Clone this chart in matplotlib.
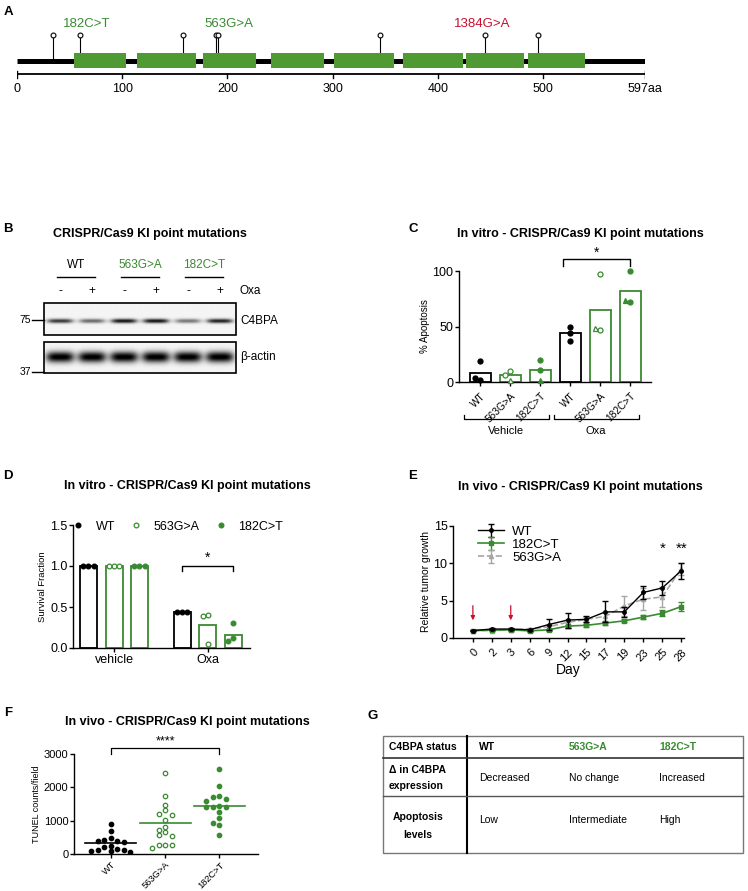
import numpy as np
import matplotlib
matplotlib.use('Agg')
import matplotlib.pyplot as plt
from matplotlib.patches import Rectangle
from matplotlib.lines import Line2D

plt.rcParams['font.family'] = ['Liberation Sans', 'DejaVu Sans']
plt.rcParams['axes.linewidth'] = 1.0

W, H = 748, 891
GREEN = '#3a8a32'
BOX_GREEN = '#4f9a32'
RED = '#c8102e'
GREY = '#a6a6a6'

# ---- panel A: protein map
PROTEIN_LEN = 597
DOMAINS = [(54, 104), (114, 170), (177, 227), (241, 292), (301, 358),
           (367, 424), (427, 482), (486, 540)]
SITES = [34, 60, 158, 189, 191, 345, 445, 495]
MUTATIONS = ['182C>T', '563G>A', '1384G>A']
MUT_POS = [66, 201, 442]
MUT_COLORS = [GREEN, GREEN, RED]
SCALE_TICKS = [0, 100, 200, 300, 400, 500]

# ---- panel B: western blot
BLOT_GROUPS = ['WT', '563G>A', '182C>T']
BLOT_GROUP_COLORS = ['black', GREEN, GREEN]
OXA_SIGNS = ['-', '+', '-', '+', '-', '+']
C4BPA_BAND = [0.75, 0.55, 0.9, 0.9, 0.5, 0.85]
ACTIN_BAND = [1.0, 1.0, 1.0, 1.0, 1.0, 1.0]

# ---- panel C: % apoptosis
C_GROUPS = ['WT', '563G>A', '182C>T']
C_TREAT = ['Vehicle', 'Oxa']
C_BARS = [8, 6, 11, 44, 65, 82]
C_POINTS = [[19, 2, 3.5], [10, 6, 2], [20, 10.5, 2],
            [50, 44, 37], [97, 47, 49], [100, 72, 74]]

# ---- panel D: survival fraction
D_TREAT = ['vehicle', 'Oxa']
D_LABELS = ['WT', '563G>A', '182C>T']
D_BARS = [[1.0, 0.44], [1.0, 0.28], [1.0, 0.16]]
D_POINTS = [[[1.0, 1.0, 1.0], [0.44, 0.44, 0.44]],
            [[1.0, 1.0, 1.0], [0.40, 0.39, 0.05]],
            [[1.0, 1.0, 1.0], [0.30, 0.12, 0.08]]]

# ---- panel E: tumour growth
DAYS = ['0', '2', '3', '6', '9', '12', '15', '17', '19', '23', '25', '28']
E_WT = [1.0, 1.2, 1.2, 1.1, 1.8, 2.4, 2.5, 3.5, 3.5, 6.1, 6.7, 9.0]
E_WT_ERR = [0.05, 0.1, 0.1, 0.1, 0.7, 1.0, 0.4, 1.4, 0.7, 0.9, 1.0, 1.1]
E_182 = [1.0, 1.05, 1.1, 0.95, 1.1, 1.6, 1.7, 2.0, 2.3, 2.8, 3.3, 4.2]
E_182_ERR = [0.05, 0.1, 0.1, 0.1, 0.15, 0.2, 0.2, 0.2, 0.2, 0.3, 0.4, 0.6]
E_563 = [1.0, 1.0, 1.1, 1.2, 1.5, 2.1, 2.5, 2.9, 4.3, 5.2, 5.5, 9.3]
E_563_ERR = [0.05, 0.1, 0.1, 0.1, 0.3, 0.5, 0.3, 0.6, 1.3, 1.5, 1.3, 0.8]
ARROW_DAYS = ['0', '3']

# ---- panel F: TUNEL counts
F_GROUPS = ['WT', '563G>A', '182C>T']
F_WT = [910, 700, 480, 430, 400, 380, 350, 250, 200, 150, 130, 120, 100, 80, 60]
F_563 = [2430, 1730, 1480, 1320, 1200, 1180, 1030, 820, 720, 650, 560, 550,
         280, 270, 260, 180]
F_182 = [2550, 2040, 1730, 1710, 1660, 1590, 1440, 1420, 1420, 1400, 1250,
         1080, 940, 880, 580]

# ---- panel G: summary table
G_HEADER = ['C4BPA status', 'WT', '563G>A', '182C>T']
G_HEADER_COLORS = ['black', 'black', GREEN, GREEN]
G_ROW1 = ['Decreased', 'No change', 'Increased']
G_ROW2 = ['Low', 'Intermediate', 'High']

fig = plt.figure(figsize=(W / 100, H / 100), dpi=100)


def px_axes(x0, y0, x1, y1):
    return fig.add_axes([x0 / W, 1 - y1 / H, (x1 - x0) / W, (y1 - y0) / H])


def ftext(x, y, s, **kw):
    kw.setdefault('va', 'center')
    return fig.text(x / W, 1 - y / H, s, **kw)


def swarm_x(ax, xc, vals, step, min_px):
    placed, xs = [], []
    offsets = [0] + [s * i for i in range(1, 10) for s in (-1, 1)]
    for v in vals:
        for o in offsets:
            x = xc + o * step
            p = ax.transData.transform((x, v))
            if all(np.hypot(*(p - q)) >= min_px for q in placed):
                break
        placed.append(p)
        xs.append(x)
    return xs


def clean(ax):
    ax.spines['top'].set_visible(False)
    ax.spines['right'].set_visible(False)
    ax.tick_params(length=3, width=1)


# panel letters and titles
for lab, x, y in [('A', 8, 12), ('B', 8, 229), ('C', 413, 229), ('D', 8, 476),
                  ('E', 413, 476), ('F', 8, 713), ('G', 373, 716)]:
    ftext(x, y, lab, fontsize=9.5, fontweight='bold', ha='center')
TITLE_KW = dict(fontsize=9, fontweight='bold', ha='center')
ftext(150, 234, 'CRISPR/Cas9 KI point mutations', **TITLE_KW)
ftext(580, 234, 'In vitro - CRISPR/Cas9 KI point mutations', **TITLE_KW)
ftext(187, 486, 'In vitro - CRISPR/Cas9 KI point mutations', **TITLE_KW)
ftext(580, 487, 'In vivo - CRISPR/Cas9 KI point mutations', **TITLE_KW)
ftext(187, 722, 'In vivo - CRISPR/Cas9 KI point mutations', **TITLE_KW)

# ---------------- A
axA = px_axes(17, 10, 645, 100)
axA.set_xlim(0, PROTEIN_LEN)
axA.set_ylim(100, 10)
axA.axis('off')
axA.plot([0, PROTEIN_LEN], [61, 61], color='black', lw=3.6, solid_capstyle='butt')
for s, e in DOMAINS:
    axA.add_patch(Rectangle((s, 52.5), e - s, 15, facecolor=BOX_GREEN, edgecolor='none', zorder=3))
for site in SITES:
    base = 52.5 if any(s <= site <= e for s, e in DOMAINS) else 61
    axA.plot([site, site], [base, 36], color='black', lw=0.8, zorder=2)
    axA.plot(site, 35, 'o', ms=3.5, mfc='white', mec='black', mew=0.8, zorder=4)
for name, pos, col in zip(MUTATIONS, MUT_POS, MUT_COLORS):
    axA.text(pos, 24, name, color=col, fontsize=9.5, ha='center', va='center')
axA.plot([0, PROTEIN_LEN], [74, 74], color='black', lw=1.3)
for t in SCALE_TICKS + [PROTEIN_LEN]:
    top = 71 if t in (0, PROTEIN_LEN) else 74
    axA.plot([t, t], [top, 78], color='black', lw=1)
    lab = f'{t}aa' if t == PROTEIN_LEN else str(t)
    axA.text(t, 89, lab, fontsize=9, ha='center', va='center')

# ---------------- B
axB = px_axes(0, 180, 330, 410)
axB.set_xlim(0, 330)
axB.set_ylim(410, 180)
axB.axis('off')
bx0, bx1 = 44, 236
lane_x = [bx0 + (bx1 - bx0) * (i + 0.5) / 6 for i in range(6)]


def blot(y0, y1, inten, yc, hh, hw):
    xs = np.linspace(bx0, bx1, 400)
    ys = np.linspace(y0, y1, 80)
    X, Y = np.meshgrid(xs, ys)
    img = np.full_like(X, 0.04)
    for lx, a in zip(lane_x, inten):
        img += a * np.exp(-((X - lx) / hw) ** 4) * np.exp(-((Y - yc) / hh) ** 2)
    axB.imshow(img, extent=(bx0, bx1, y1, y0), origin='upper', cmap='gray_r',
               vmin=0, vmax=1, aspect='auto', interpolation='bilinear')
    axB.add_patch(Rectangle((bx0, y0), bx1 - bx0, y1 - y0, fill=False, edgecolor='black', lw=1.2))


blot(303, 335, C4BPA_BAND, 321, 2.2, 13)
blot(342, 373, ACTIN_BAND, 357, 5.5, 14)
axB.set_xlim(0, 330)
axB.set_ylim(410, 180)
for g, (name, col) in enumerate(zip(BLOT_GROUPS, BLOT_GROUP_COLORS)):
    cx = (lane_x[2 * g] + lane_x[2 * g + 1]) / 2
    axB.text(cx, 265, name, color=col, fontsize=8.5, ha='center', va='center')
    axB.plot([cx - 19, cx + 19], [277, 277], color='black', lw=1)
for lx, sgn in zip(lane_x, OXA_SIGNS):
    axB.text(lx, 291, sgn, fontsize=8.5, ha='center', va='center')
axB.text(240, 291, 'Oxa', fontsize=8.5, va='center')
axB.text(240, 321, 'C4BPA', fontsize=8.5, va='center')
axB.text(240, 357, 'β-actin', fontsize=8.5, va='center')
for mw, y in [('75', 320), ('37', 372)]:
    axB.text(31, y, mw, fontsize=7.5, ha='right', va='center')
    axB.plot([32, bx0], [y, y], color='black', lw=1)

# ---------------- C
axC = px_axes(459, 271, 651, 382)
clean(axC)
axC.set_xlim(-0.7, 5.7)
axC.set_ylim(0, 100)
cx = np.arange(len(C_BARS))
c_cols = ['black', GREEN, GREEN] * 2
axC.bar(cx, C_BARS, width=0.7, fill=False, edgecolor=c_cols, lw=1.3)
for i, pts in enumerate(C_POINTS):
    g = i % 3
    xs = swarm_x(axC, i, pts, 0.17, 5)
    for j, (x, v) in enumerate(zip(xs, pts)):
        mk = '^' if (g > 0 and j == 2) else 'o'
        face = 'white' if g == 1 else c_cols[i]
        axC.plot(x, v, mk, ms=3.6, mfc=face, mec=c_cols[i], mew=0.9, clip_on=False, zorder=4)
axC.set_yticks([0, 50, 100])
axC.tick_params(axis='y', labelsize=9, pad=1)
axC.set_xticks(cx)
axC.set_xticklabels(C_GROUPS * 2, rotation=45, ha='right', rotation_mode='anchor', fontsize=7.3)
axC.set_ylabel('% Apoptosis', fontsize=7, labelpad=2)
for t, name in enumerate(C_TREAT):
    a, b = 3 * t - 0.55, 3 * t + 2.3
    axC.plot([a, a, b, b], [-30, -33.5, -33.5, -30], color='black', lw=0.9, clip_on=False)
    axC.text((a + b) / 2, -44, name, fontsize=8, ha='center', va='center')
axC.plot([2.75, 2.75, 5, 5], [104.5, 111, 111, 104.5], color='black', lw=1, clip_on=False)
axC.text(3.9, 116, '*', fontsize=10, ha='center', va='center')

# ---------------- D
axD = px_axes(73, 525, 250, 648)
clean(axD)
axD.set_xlim(-0.44, 1.45)
axD.set_ylim(0, 1.5)
d_off = [-0.275, 0, 0.27]
d_cols = ['black', GREEN, GREEN]
d_face = ['black', 'white', GREEN]
for k in range(3):
    xs = np.arange(len(D_TREAT)) + d_off[k]
    axD.bar(xs, D_BARS[k], width=0.18, fill=False, edgecolor=d_cols[k], lw=1.3)
    for t in range(len(D_TREAT)):
        px = swarm_x(axD, xs[t], D_POINTS[k][t], 0.055, 4.8)
        axD.plot(px, D_POINTS[k][t], 'o', ms=3.4, mfc=d_face[k], mec=d_cols[k], mew=0.9,
                 ls='none', clip_on=False, zorder=4)
axD.set_yticks([0, 0.5, 1.0, 1.5])
axD.set_yticklabels(['0.0', '0.5', '1.0', '1.5'])
axD.tick_params(axis='y', labelsize=9, pad=1)
axD.set_xticks(range(len(D_TREAT)))
axD.set_xticklabels(D_TREAT, fontsize=9)
axD.tick_params(axis='x', pad=1)
axD.set_ylabel('Survival Fraction', fontsize=6.8, labelpad=2)
handles = [Line2D([], [], marker='o', ls='none', ms=3.4, mfc=f, mec=c, mew=0.9)
           for f, c in zip(d_face, d_cols)]
axD.legend(handles, D_LABELS, ncol=3, loc='center left', bbox_to_anchor=(0.0, 0.985),
           frameon=False, fontsize=9, handlelength=0.8, handletextpad=1.0,
           columnspacing=1.3, borderaxespad=0, borderpad=0)
axD.plot([1 + d_off[0], 1 + d_off[0], 1 + d_off[2], 1 + d_off[2]],
         [0.94, 1.0, 1.0, 0.94], color='black', lw=1)
axD.text(1, 1.1, '*', fontsize=10, ha='center', va='center')

# ---------------- E
axE = px_axes(453, 526, 684, 638)
clean(axE)
axE.set_xlim(-1.05, 11.15)
axE.set_ylim(0, 15)
ex = np.arange(len(DAYS))
axE.errorbar(ex, E_563, yerr=E_563_ERR, color=GREY, ls='--', lw=1.2, marker='^', ms=3,
             capsize=2, elinewidth=1, label='563G>A', zorder=2)
axE.errorbar(ex, E_182, yerr=E_182_ERR, color=GREEN, lw=1.2, marker='s', ms=2.5,
             capsize=2, elinewidth=1, label='182C>T', zorder=3)
axE.errorbar(ex, E_WT, yerr=E_WT_ERR, color='black', lw=1, marker='o', ms=2.5,
             capsize=2, elinewidth=1, label='WT', zorder=4)
h, l = axE.get_legend_handles_labels()
order = [2, 1, 0]
axE.legend([h[i] for i in order], [l[i] for i in order], loc='upper left',
           bbox_to_anchor=(0.08, 1.06), frameon=False, fontsize=9.5, handlelength=2,
           labelspacing=0.05, borderpad=0, handletextpad=0.6)
for d in ARROW_DAYS:
    i = DAYS.index(d)
    axE.annotate('', xy=(i, 2.0), xytext=(i, 4.7),
                 arrowprops=dict(arrowstyle='-|>', color=RED, lw=0.9, mutation_scale=6))
axE.text(10, 11.9, '*', fontsize=11, ha='center', va='center')
axE.text(11, 11.9, '**', fontsize=11, ha='center', va='center')
axE.set_xticks(ex)
axE.set_xticklabels(DAYS, rotation=45, ha='right', rotation_mode='anchor', fontsize=8)
axE.set_yticks([0, 5, 10, 15])
axE.tick_params(axis='y', labelsize=9, pad=1)
axE.set_xlabel('Day', fontsize=10, labelpad=0)
axE.set_ylabel('Relative tumor growth', fontsize=7.5, labelpad=2)

# ---------------- F
axF = px_axes(74, 754, 258, 854)
clean(axF)
axF.set_xlim(-0.68, 2.71)
axF.set_ylim(0, 3000)
f_cols = ['black', GREEN, GREEN]
f_face = ['black', 'white', GREEN]
for k, vals in enumerate([F_WT, F_563, F_182]):
    xs = swarm_x(axF, k, vals, 0.12, 5.2)
    axF.plot(xs, vals, 'o', ms=3.2, mfc=f_face[k], mec=f_cols[k], mew=0.9, ls='none', zorder=3)
    m = np.mean(vals)
    axF.plot([k - 0.47, k + 0.47], [m, m], color=f_cols[k], lw=1.2, zorder=4)
axF.set_xticks(range(3))
axF.set_xticklabels(F_GROUPS, rotation=45, ha='right', rotation_mode='anchor', fontsize=6.7)
axF.tick_params(axis='x', pad=1.5)
axF.set_yticks([0, 1000, 2000, 3000])
axF.tick_params(axis='y', labelsize=8, pad=1)
axF.set_ylabel('TUNEL counts/field', fontsize=6.5, labelpad=2)
axF.plot([0, 0, 2, 2], [2990, 3170, 3170, 2990], color='black', lw=0.9, clip_on=False)
axF.text(1, 3390, '****', fontsize=9, ha='center', va='center')

# ---------------- G
axG = px_axes(380, 730, 746, 858)
axG.set_xlim(380, 746)
axG.set_ylim(858, 730)
axG.axis('off')
axG.add_patch(Rectangle((383, 736), 360, 117, fill=False, edgecolor='#777777', lw=1))
axG.plot([467, 467], [736, 853], color='black', lw=1.5)
axG.plot([383, 743], [758, 758], color='#333333', lw=1.2)
axG.plot([383, 743], [796, 796], color='#555555', lw=1)
col_x = [479, 569, 659]
G_FS = 7.5
axG.text(423, 747, G_HEADER[0], fontsize=G_FS, fontweight='bold', ha='center', va='center')
for x, s, c in zip(col_x, G_HEADER[1:], G_HEADER_COLORS[1:]):
    axG.text(x, 747, s, fontsize=G_FS, fontweight='bold', color=c, va='center')
axG.text(389, 770, 'Δ in C4BPA', fontsize=G_FS, fontweight='bold', va='center')
axG.text(389, 786, 'expression', fontsize=G_FS, fontweight='bold', va='center')
axG.text(418, 817, 'Apoptosis', fontsize=G_FS, fontweight='bold', ha='center', va='center')
axG.text(418, 835, 'levels', fontsize=G_FS, fontweight='bold', ha='center', va='center')
for x, s in zip(col_x, G_ROW1):
    axG.text(x, 778, s, fontsize=G_FS, va='center')
for x, s in zip(col_x, G_ROW2):
    axG.text(x, 820, s, fontsize=G_FS, va='center')

fig.savefig('out.png', dpi=100)
